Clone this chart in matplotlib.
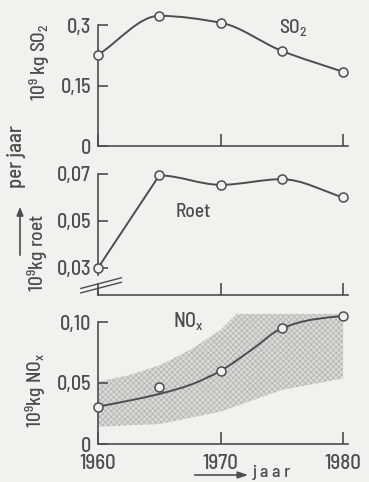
import matplotlib
matplotlib.use("Agg")
import matplotlib.pyplot as plt
import numpy as np
from matplotlib.path import Path
from matplotlib.patches import PathPatch, FancyArrowPatch
from matplotlib import font_manager as fm

# ---------------- data ----------------
years = [1960, 1965, 1970, 1975, 1980]
so2 = [0.226, 0.323, 0.306, 0.236, 0.184]
roet = [0.030, 0.0693, 0.0653, 0.0677, 0.060]
nox = [0.0306, 0.0464, 0.060, 0.0948, 0.105]

fit_years = [1960, 1962.5, 1965, 1967.5, 1970, 1972.5, 1975, 1977.5, 1980]
nox_fit = [0.0306, 0.0355, 0.041, 0.0484, 0.060, 0.077, 0.0948, 0.102, 0.105]

band_up_years = [1960, 1962.6, 1965.1, 1967.5, 1970, 1971.3, 1980]
band_up = [0.051, 0.0566, 0.0648, 0.077, 0.0934, 0.1066, 0.1066]
band_lo_years = [1960, 1965, 1970, 1975, 1980]
band_lo = [0.0142, 0.0164, 0.0265, 0.0443, 0.0538]

so2_ticks = [0, 0.15, 0.3]
so2_ticklabels = ["0", "0,15", "0,3"]
roet_ticks = [0.03, 0.05, 0.07]
roet_ticklabels = ["0,03", "0,05", "0,07"]
nox_ticks = [0, 0.05, 0.10]
nox_ticklabels = ["0", "0,05", "0,10"]
x_ticks = [1960, 1970, 1980]
x_ticklabels = ["1960", "1970", "1980"]

# ---------------- style ----------------
BG = "#f2f1ee"
INK = "#4d4d4d"
available = {f.name for f in fm.fontManager.ttflist}
FONT = "DejaVu Sans"
for cand in ["Barlow Semi Condensed", "Roboto Condensed", "Liberation Sans Narrow",
             "Archivo Narrow", "PT Sans Narrow", "Open Sans Condensed"]:
    if cand in available:
        FONT = cand
        break
plt.rcParams["font.family"] = [FONT, "DejaVu Sans"]
plt.rcParams["font.weight"] = "medium"
plt.rcParams["mathtext.fontset"] = "custom"
plt.rcParams["mathtext.rm"] = FONT + ":medium"
plt.rcParams["mathtext.it"] = FONT + ":medium"
plt.rcParams["mathtext.default"] = "regular"
plt.rcParams["hatch.linewidth"] = 0.45

W, H = 369, 482
fig = plt.figure(figsize=(W / 100, H / 100), dpi=100, facecolor=BG)


def px_axes(left, top, right, bottom):
    return fig.add_axes([left / W, 1 - bottom / H, (right - left) / W, (bottom - top) / H])


def smooth_path(xs, ys, straight_first=False):
    x = np.asarray(xs, float)
    y = np.asarray(ys, float)
    n = len(x)
    d = np.diff(y) / np.diff(x)
    m = np.zeros(n)
    m[0], m[-1] = d[0], d[-1]
    for k in range(1, n - 1):
        if d[k - 1] * d[k] > 0:
            m[k] = 2.0 / (1.0 / d[k - 1] + 1.0 / d[k])
        else:
            m[k] = 0.0
    verts = [(x[0], y[0])]
    codes = [Path.MOVETO]
    for k in range(n - 1):
        if straight_first and k == 0:
            verts.append((x[1], y[1]))
            codes.append(Path.LINETO)
            continue
        h = x[k + 1] - x[k]
        verts += [(x[k] + h / 3, y[k] + m[k] * h / 3),
                  (x[k + 1] - h / 3, y[k + 1] - m[k + 1] * h / 3),
                  (x[k + 1], y[k + 1])]
        codes += [Path.CURVE4] * 3
    return Path(verts, codes)


def style_axes(ax, yb):
    ax.set_facecolor("none")
    for s in ("top", "right"):
        ax.spines[s].set_visible(False)
    for s in ("left", "bottom"):
        ax.spines[s].set_color(INK)
        ax.spines[s].set_linewidth(1.2)
    ax.spines["left"].set_bounds(*yb)
    ax.tick_params(axis="y", direction="in", length=7, width=1.2, color=INK,
                   labelcolor=INK, labelsize=14.5, pad=5)
    ax.tick_params(axis="x", direction="in", length=8.5, width=1.2, color=INK,
                   labelcolor=INK, labelsize=15, pad=7)
    ax.set_xlim(1960, 1980.4)
    ax.set_xticks(x_ticks)


def draw_series(ax, xs, ys, fit_x=None, fit_y=None, straight_first=False):
    if fit_x is None:
        fit_x, fit_y = xs, ys
    ax.add_patch(PathPatch(smooth_path(fit_x, fit_y, straight_first), facecolor="none",
                           edgecolor=INK, lw=1.4, clip_on=False, zorder=3))
    ax.plot(xs, ys, linestyle="none", marker="o", ms=6.5, mfc=BG, mec=INK,
            mew=1.1, clip_on=False, zorder=4)


# ---- panel 1: SO2 ----
ax1 = px_axes(98, 9, 348, 146)
style_axes(ax1, (0, 0.3))
ax1.set_ylim(0, 0.34)
ax1.set_yticks(so2_ticks)
ax1.set_yticklabels(so2_ticklabels)
ax1.set_xticklabels([])
draw_series(ax1, years, so2)
ax1.text(1975.9, 0.295, "SO$_2$", color=INK, fontsize=14, ha="center", va="center")

# ---- panel 2: roet ----
ax2 = px_axes(98, 162, 348, 295)
style_axes(ax2, (0.0268, 0.07))
ax2.set_ylim(0.0185, 0.0750)
ax2.set_yticks(roet_ticks)
ax2.set_yticklabels(roet_ticklabels)
ax2.set_xticklabels([])
draw_series(ax2, years, roet, straight_first=True)
ax2.text(1967.8, 0.0538, "Roet", color=INK, fontsize=14, ha="center", va="center")
# axis break marks
ax2.plot([1960, 1960], [0.0185, 0.0215], color=INK, lw=1.2, clip_on=False)
for dy in (0.0, -0.0019):
    ax2.plot([1958.6, 1961.9], [0.0213 + dy, 0.0258 + dy], color=INK, lw=1.0,
             clip_on=False)

# ---- panel 3: NOx ----
ax3 = px_axes(98, 303.7, 348, 444)
style_axes(ax3, (0, 0.10))
ax3.set_ylim(0, 0.115)
ax3.set_yticks(nox_ticks)
ax3.set_yticklabels(nox_ticklabels)
ax3.set_xticklabels(x_ticklabels)
poly_x = list(band_up_years) + list(band_lo_years[::-1])
poly_y = list(band_up) + list(band_lo[::-1])
ax3.fill(poly_x, poly_y, facecolor="#dad9d5", edgecolor="#aeadaa", hatch="xxxxxx",
         linewidth=0, zorder=1)
draw_series(ax3, years, nox, fit_years, nox_fit)
ax3.text(1967.4, 0.100, "NO$_x$", color=INK, fontsize=14.5, ha="center", va="center")

# ---- labels ----
def ftext(x, y, s, **kw):
    fig.text(x / W, 1 - y / H, s, color=INK, **kw)

ftext(40, 62, "10$^9$ kg SO$_2$", rotation=90, ha="center", va="center", fontsize=14)
ftext(38, 253, "10$^9$kg roet", rotation=90, ha="center", va="center", fontsize=14)
ftext(36, 390, "10$^9$kg NO$_x$", rotation=90, ha="center", va="center", fontsize=14)
ftext(16, 157, "per jaar", rotation=90, ha="center", va="center", fontsize=15)
fig.add_artist(FancyArrowPatch(
    (20 / W, 1 - 258 / H), (20 / W, 1 - 204 / H), transform=fig.transFigure,
    arrowstyle="-|>,head_length=5,head_width=2", color=INK, lw=1.2))

fig.add_artist(FancyArrowPatch(
    (192 / W, 1 - 475 / H), (251 / W, 1 - 475 / H), transform=fig.transFigure,
    arrowstyle="-|>,head_length=6,head_width=2", color=INK, lw=1.2))
ftext(253, 473, "j a a r", ha="left", va="center", fontsize=13)

fig.savefig("out.png", dpi=100, facecolor=BG)
